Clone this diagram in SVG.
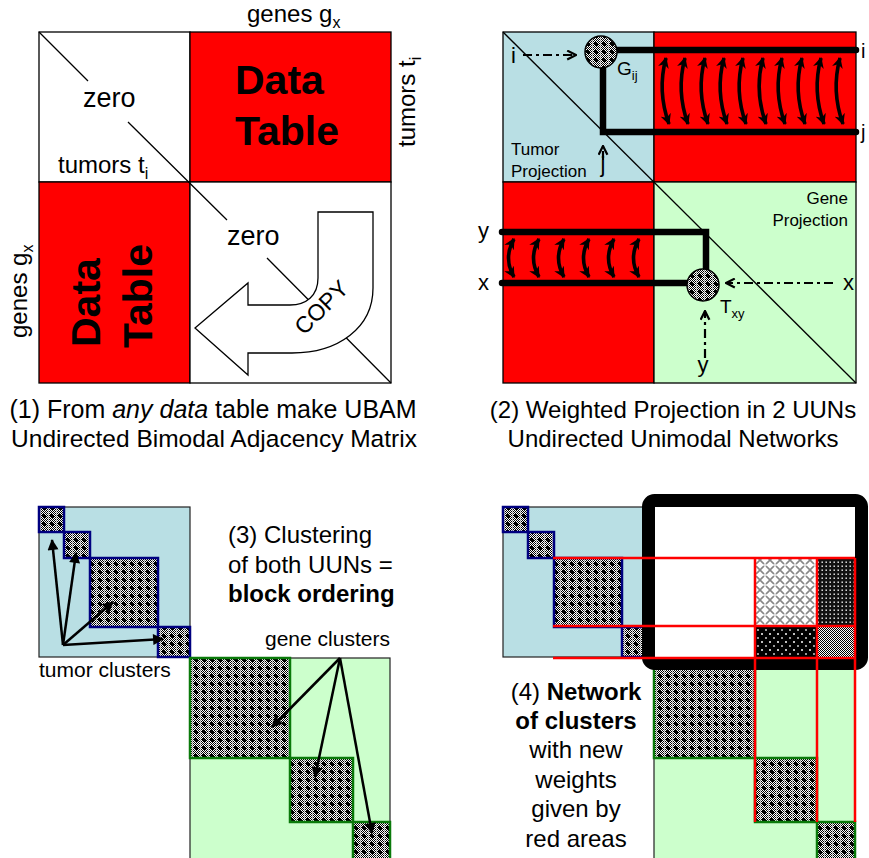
<svg xmlns="http://www.w3.org/2000/svg" width="869" height="858" viewBox="0 0 869 858">
<defs>
<style>
text{font-family:"Liberation Sans",Arial,sans-serif;fill:#000}
.t24{font-size:24px}
.t21{font-size:21px}
.t17{font-size:17px}
.b{font-weight:bold}
.ln{fill:none;stroke:#000;stroke-width:1.3}
.red{fill:#ff0000;stroke:#000;stroke-width:1.3}
.wht{fill:#fff;stroke:#000;stroke-width:1.3}
.blue{fill:#b9dfe4;stroke:#222;stroke-width:1.2}
.green{fill:#ccffcc;stroke:#222;stroke-width:1.2}
.thick{fill:none;stroke:#000;stroke-width:6.5;stroke-linecap:round}
.dd{fill:none;stroke:#000;stroke-width:2.2;stroke-dasharray:9 4 3 4;marker-end:url(#chev)}
.curv{fill:none;stroke:#000;stroke-width:3.6;marker-start:url(#dh);marker-end:url(#dh)}
.ar{fill:none;stroke:#000;stroke-width:2.5;marker-end:url(#ah)}
.tc{fill:url(#cl);stroke:#000080;stroke-width:2.5}
.gc{fill:url(#cl);stroke:#0a7a0a;stroke-width:2.5}
.rl{stroke:#ff0000;stroke-width:2.5;fill:none}
.node{fill:url(#cl);stroke:#000;stroke-width:1.5}
</style>
<pattern id="chk" width="2" height="2" patternUnits="userSpaceOnUse"><rect width="2" height="2" fill="#fff"/><rect width="1" height="1" fill="#000"/><rect x="1" y="1" width="1" height="1" fill="#000"/></pattern>
<pattern id="cl" width="8" height="8" patternUnits="userSpaceOnUse"><rect width="8" height="8" fill="url(#chk)"/><path d="M3 2h2v1h1v2h-1v1h-2v-1h-1v-2h1z" fill="#000"/><rect x="0" y="0" width="1" height="8" fill="#ddd" opacity="0.6"/></pattern>
<pattern id="light" width="10" height="10" patternUnits="userSpaceOnUse"><rect width="10" height="10" fill="#fff"/><path d="M0 0L10 10M10 0L0 10" stroke="#888" stroke-width="1.6"/><path d="M5 0V10M0 5H10" stroke="#fff" stroke-width="1"/></pattern>
<pattern id="dgrid" width="4" height="4" patternUnits="userSpaceOnUse"><rect width="4" height="4" fill="#111"/><rect x="1.5" y="1.5" width="1.4" height="1.4" fill="#fff"/></pattern>
<pattern id="bdots" width="8" height="8" patternUnits="userSpaceOnUse"><rect width="8" height="8" fill="#000"/><circle cx="2" cy="2" r="1" fill="#fff"/><circle cx="6" cy="6" r="1" fill="#ccc"/></pattern>
<marker id="chev" viewBox="0 0 10 10" refX="9" refY="5" markerWidth="11" markerHeight="11" markerUnits="userSpaceOnUse" orient="auto"><path d="M1,1 L9,5 L1,9" fill="none" stroke="#000" stroke-width="2" stroke-dasharray="none"/></marker>
<marker id="dh" viewBox="0 0 10 10" refX="9" refY="5" markerWidth="11" markerHeight="11" markerUnits="userSpaceOnUse" orient="auto-start-reverse"><path d="M0,0 L10,5 L0,10 L3,5 z" fill="#000"/></marker>
<marker id="ah" viewBox="0 0 10 10" refX="9" refY="5" markerWidth="12" markerHeight="11" markerUnits="userSpaceOnUse" orient="auto"><path d="M0,0 L10,5 L0,10 z" fill="#000"/></marker>
</defs>

<!-- Panel 1 -->
<g id="panel1">
  <g id="p1-matrix">
    <rect class="wht" x="39" y="32" width="151" height="150"/>
    <rect class="red" x="190" y="32" width="201" height="150"/>
    <rect class="red" x="39" y="182" width="151" height="201"/>
    <rect class="wht" x="190" y="182" width="201" height="201"/>
    <path class="ln" d="M39,32 L88,81 M128,122 L227,220 M267,258 L391,383"/>
  </g>
  <g id="p1-copy">
    <path d="M318,212 L373,212 L373,288 C373,328 338,353 292,353 L248,353 L248,375 L195,328 L248,283 L248,305 L290,305 C306,305 318,296 318,278 Z" fill="#fff" stroke="#000" stroke-width="1.3"/>
    <text transform="translate(327,313) rotate(-45)" text-anchor="middle" font-size="23">COPY</text>
  </g>
  <text class="t24" x="247" y="22">genes g<tspan font-size="16" dy="6">x</tspan></text>
  <text class="t24" transform="translate(415,147) rotate(-90)">tumors t<tspan font-size="16" dy="6">i</tspan></text>
  <text class="t24" transform="translate(27,338) rotate(-90)">genes g<tspan font-size="16" dy="6">x</tspan></text>
  <text class="t24" x="58" y="173">tumors t<tspan font-size="16" dy="6">i</tspan></text>
  <text x="83" y="107" font-size="27">zero</text>
  <text x="227" y="245" font-size="27">zero</text>
  <text class="b" x="235" y="94" font-size="41">Data</text>
  <text class="b" x="235" y="145" font-size="41">Table</text>
  <text class="b" transform="translate(100,347) rotate(-90)" font-size="41">Data</text>
  <text class="b" transform="translate(152,348) rotate(-90)" font-size="41">Table</text>
  <text text-anchor="middle" x="213" y="418" font-size="25">(1) From <tspan font-style="italic">any data</tspan> table make UBAM</text>
  <text text-anchor="middle" x="214" y="447" font-size="24.5">Undirected Bimodal Adjacency Matrix</text>
</g>

<!-- Panel 2 -->
<g id="panel2">
  <g id="p2-matrix">
    <rect x="503" y="32" width="151" height="150" fill="#b9dfe4" stroke="#000" stroke-width="1.3"/>
    <rect class="red" x="654" y="32" width="202" height="150"/>
    <rect class="red" x="503" y="182" width="151" height="201"/>
    <rect x="654" y="182" width="202" height="201" fill="#ccffcc" stroke="#000" stroke-width="1.3"/>
    <line class="ln" x1="503" y1="32" x2="856" y2="383"/>
  </g>
  <g id="p2-connectors">
    <path class="thick" d="M856,50 L612,50"/>
    <path class="thick" d="M603,60 L603,132 L856,132" stroke-linejoin="miter"/>
    <path class="thick" d="M502,232 L706,232 L706,272"/>
    <path class="thick" d="M502,283 L690,283"/>
    <path class="curv" d="M666,58 Q657,91 669,124"/>
    <path class="curv" d="M685,58 Q676,91 688,124"/>
    <path class="curv" d="M705,58 Q696,91 708,124"/>
    <path class="curv" d="M724,58 Q715,91 727,124"/>
    <path class="curv" d="M743,58 Q734,91 746,124"/>
    <path class="curv" d="M763,58 Q754,91 766,124"/>
    <path class="curv" d="M782,58 Q773,91 785,124"/>
    <path class="curv" d="M802,58 Q793,91 805,124"/>
    <path class="curv" d="M821,58 Q812,91 824,124"/>
    <path class="curv" d="M840,58 Q831,91 843,124"/>
    <path class="curv" d="M514,239 Q503,258 514,277"/>
    <path class="curv" d="M539,239 Q528,258 539,277"/>
    <path class="curv" d="M564,239 Q553,258 564,277"/>
    <path class="curv" d="M589,239 Q578,258 589,277"/>
    <path class="curv" d="M614,239 Q603,258 614,277"/>
    <path class="curv" d="M639,239 Q628,258 639,277"/>
    <path class="dd" d="M523,55 L576,55"/>
    <path class="dd" d="M603,160 L603,146"/>
    <path class="dd" d="M833,283 L726,283"/>
    <path class="dd" d="M705,358 L705,311"/>
  </g>
  <g id="G_ij">
    <circle class="node" cx="601" cy="52" r="16"/>
    <text x="617" y="75" font-size="19">G<tspan font-size="13" dy="5">ij</tspan></text>
  </g>
  <g id="T_xy">
    <circle class="node" cx="703" cy="285" r="16"/>
    <text x="720" y="313" font-size="19">T<tspan font-size="13" dy="5">xy</tspan></text>
  </g>
  <text x="511" y="63" font-size="22">i</text>
  <text x="603" y="172" font-size="22" text-anchor="middle">j</text>
  <text x="861" y="58" font-size="20">i</text>
  <text x="861" y="139" font-size="20">j</text>
  <text x="478" y="238" font-size="22">y</text>
  <text x="478" y="290" font-size="22">x</text>
  <text x="843" y="290" font-size="22">x</text>
  <text x="703" y="372" font-size="22" text-anchor="middle">y</text>
  <text class="t17" x="511" y="155">Tumor</text>
  <text class="t17" x="511" y="177">Projection</text>
  <text class="t17" x="848" y="204" text-anchor="end">Gene</text>
  <text class="t17" x="848" y="226" text-anchor="end">Projection</text>
  <text class="t24" text-anchor="middle" x="673" y="418">(2) Weighted Projection in 2 UUNs</text>
  <text class="t24" text-anchor="middle" x="673" y="447">Undirected Unimodal Networks</text>
</g>

<!-- Panel 3 -->
<g id="panel3">
  <rect class="blue" x="39" y="507" width="151" height="150"/>
  <rect class="green" x="190" y="658" width="200" height="202"/>
  <g id="p3-tumor-clusters">
    <rect class="tc" x="39" y="507" width="25" height="25"/>
    <rect class="tc" x="64" y="532" width="26" height="26"/>
    <rect class="tc" x="90" y="558" width="68" height="69"/>
    <rect class="tc" x="158" y="627" width="32" height="30"/>
  </g>
  <g id="p3-gene-clusters">
    <rect class="gc" x="190" y="658" width="100" height="100"/>
    <rect class="gc" x="290" y="758" width="63" height="64"/>
    <rect class="gc" x="353" y="822" width="37" height="40"/>
  </g>
  <g id="p3-connectors">
    <path class="ar" d="M63,645 L52,540"/>
    <path class="ar" d="M63,645 L76,553"/>
    <path class="ar" d="M63,645 L113,602"/>
    <path class="ar" d="M63,645 L163,639"/>
    <path class="ar" d="M340,658 L272,727"/>
    <path class="ar" d="M340,658 L315,777"/>
    <path class="ar" d="M340,658 L372,833"/>
  </g>
  <text class="t21" x="39" y="677">tumor clusters</text>
  <text class="t21" x="265" y="646">gene clusters</text>
  <text class="t24" x="228" y="543">(3) Clustering</text>
  <text class="t24" x="228" y="573">of both UUNs =</text>
  <text class="t24 b" x="228" y="602">block ordering</text>
</g>

<!-- Panel 4 -->
<g id="panel4">
  <rect class="blue" x="503" y="507" width="151" height="150"/>
  <g id="p4-tumor-clusters">
    <rect class="tc" x="503" y="507" width="25" height="25"/>
    <rect class="tc" x="528" y="532" width="26" height="26"/>
    <rect class="tc" x="554" y="558" width="68" height="69"/>
    <rect class="tc" x="622" y="627" width="32" height="30"/>
  </g>
  <rect class="green" x="654" y="658" width="201" height="202"/>
  <g id="p4-gene-clusters">
    <rect class="gc" x="654" y="658" width="101" height="100"/>
    <rect class="gc" x="755" y="758" width="62" height="64"/>
    <rect class="gc" x="817" y="822" width="38" height="40"/>
  </g>
  <g id="p4-network">
    <rect x="655" y="507" width="200" height="150" fill="#fff"/>
    <rect x="755" y="558" width="62" height="68" fill="url(#light)"/>
    <rect x="817" y="558" width="38" height="68" fill="url(#dgrid)"/>
    <rect x="755" y="626" width="62" height="31" fill="url(#bdots)"/>
    <rect x="817" y="626" width="38" height="31" fill="url(#chk)"/>
    <rect x="648.5" y="500.5" width="213" height="163" rx="6" fill="none" stroke="#000" stroke-width="13"/>
  </g>
  <g id="p4-red-areas">
    <path class="rl" d="M553,558 H855 M553,626 H855 M553,658 H855 M755,558 V822 M817,558 V822 M855,558 V822"/>
  </g>
  <text class="t24" text-anchor="middle" x="576" y="700">(4) <tspan class="b">Network</tspan></text>
  <text class="t24 b" text-anchor="middle" x="576" y="729">of clusters</text>
  <text class="t24" text-anchor="middle" x="576" y="758">with new</text>
  <text class="t24" text-anchor="middle" x="576" y="788">weights</text>
  <text class="t24" text-anchor="middle" x="576" y="817">given by</text>
  <text class="t24" text-anchor="middle" x="576" y="847">red areas</text>
</g>
</svg>
